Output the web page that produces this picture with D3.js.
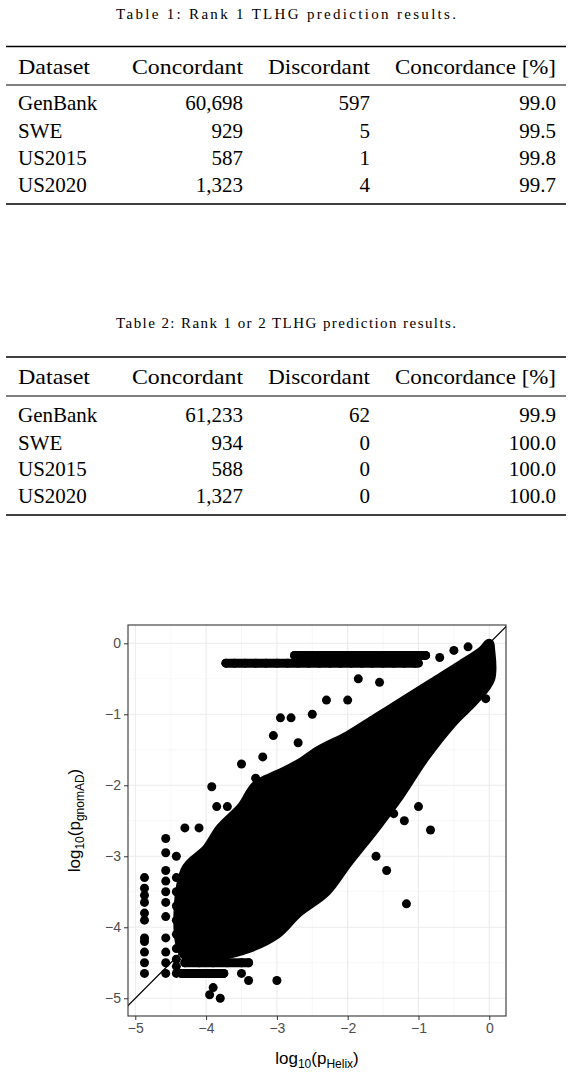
<!DOCTYPE html>
<html><head><meta charset="utf-8">
<script src="https://cdn.jsdelivr.net/npm/d3@7"></script>
<style>body{margin:0;background:#fff}</style></head>
<body><svg id="c" width="572" height="1075"></svg>
<script>
const headers = ["Dataset","Concordant","Discordant","Concordance [%]"];
const datasets = ["GenBank","SWE","US2015","US2020"];
const t1Conc = ["60,698","929","587","1,323"];
const t1Disc = ["597","5","1","4"];
const t1Pct = ["99.0","99.5","99.8","99.7"];
const t2Conc = ["61,233","934","588","1,327"];
const t2Disc = ["62","0","0","0"];
const t2Pct = ["99.9","100.0","100.0","100.0"];
const captions = ["Table 1: Rank 1 TLHG prediction results.","Table 2: Rank 1 or 2 TLHG prediction results."];

const xTicks = [-5,-4,-3,-2,-1,0];
const yTicks = [-5,-4,-3,-2,-1,0];
// dense mass outline (data coords)
const massX = [-4.3,-4.0,-3.8,-3.5,-3.3,-3.0,-2.7,-2.4,-2.0,-1.6,-1.2,-0.8,-0.4,-0.1,0,0.02,0.02,-0.2,-0.5,-0.9,-1.3,-1.6,-2.0,-2.3,-2.7,-3.0,-3.4,-3.8,-4.3];
const massY = [-3.2,-2.9,-2.6,-2.3,-2.0,-1.85,-1.7,-1.5,-1.3,-1.05,-0.8,-0.55,-0.3,-0.1,0,-0.1,-0.5,-0.8,-1.1,-1.6,-2.2,-2.6,-3.1,-3.5,-3.8,-4.1,-4.3,-4.4,-4.4];
// discrete points
const ptX = [-4.87,-4.87,-4.87,-4.87,-4.87,-4.87,-4.87,-4.87,-4.87,-4.87,-4.87,
 -4.57,-4.57,-4.57,-4.57,-4.57,-4.57,-4.57,-4.57,-4.57,-4.57,-4.57,
 -4.42,-4.42,-4.42,-4.42,-4.42,-4.42,-4.42,-4.42,-4.42,-4.42,
 -3.72,-3.6,-3.45,-3.3,-3.15,-3.0,-2.85,-2.7,-2.55,-2.4,-2.25,-2.1,-1.95,-1.8,-1.65,-1.5,-1.35,-1.2,-1.05,
 -2.75,-2.55,-2.4,-2.2,-2.0,-1.8,-1.6,-1.4,-1.2,-1.0,-0.9,
 -4.35,-4.2,-4.05,-3.9,-3.75,-4.3,-4.1,-3.9,-3.7,-3.5,-3.4,
 -1.17,-0.83,-3.8,-3.9,-3.95,-3.0,-3.4,-3.5,-3.92,-3.5,-3.2,-2.8,-2.95,-2.5,-2.3,-2.0,-1.85,-1.55,-3.05,-2.7,-0.05,-3.3,-3.7,-4.1,-4.3,-3.85,-1.45,-1.6,-1.2,-1.35,-1.0,-0.7,-0.5,-0.3];
const ptY = [-3.3,-3.45,-3.55,-3.65,-3.8,-3.9,-4.15,-4.2,-4.35,-4.5,-4.65,
 -2.75,-2.95,-3.2,-3.35,-3.5,-3.65,-3.85,-4.15,-4.35,-4.5,-4.65,
 -3.0,-3.3,-3.5,-3.7,-3.9,-4.1,-4.3,-4.45,-4.55,-4.65,
 -0.28,-0.28,-0.28,-0.28,-0.28,-0.28,-0.28,-0.28,-0.28,-0.28,-0.28,-0.28,-0.28,-0.28,-0.28,-0.28,-0.28,-0.28,-0.28,
 -0.17,-0.17,-0.17,-0.17,-0.17,-0.17,-0.17,-0.17,-0.17,-0.17,-0.17,
 -4.65,-4.65,-4.65,-4.65,-4.65,-4.5,-4.5,-4.5,-4.5,-4.5,-4.5,
 -3.67,-2.63,-5.0,-4.85,-4.95,-4.75,-4.75,-4.65,-2.02,-1.7,-1.6,-1.05,-1.05,-1.0,-0.8,-0.8,-0.5,-0.55,-1.3,-1.4,-0.78,-1.9,-2.3,-2.6,-2.6,-2.3,-3.2,-3.0,-2.5,-2.4,-2.3,-0.2,-0.1,-0.05];

const svg = d3.select("#c");
const serif = "'Liberation Serif', 'DejaVu Serif', serif";
const colRight = [null,243,370,556], colLeft = 18;
const headLeft = [18,132,268,395], headW = [72,111,102,161];
function table(ci, capY, top, head, mid, rows, bot, conc, disc, pct){
  svg.append("text").attr("x",286).attr("y",capY+5).attr("text-anchor","middle")
    .attr("font-family",serif).attr("font-size",15).attr("textLength",340).text(captions[ci]);
  [top,bot].forEach(y=>svg.append("line").attr("x1",6).attr("x2",566).attr("y1",y).attr("y2",y).attr("stroke","#000").attr("stroke-width",1.6));
  svg.append("line").attr("x1",6).attr("x2",566).attr("y1",mid).attr("y2",mid).attr("stroke","#000").attr("stroke-width",1);
  headers.forEach((h,i)=>svg.append("text").attr("x",headLeft[i]).attr("y",head+7).attr("font-family",serif)
    .attr("font-size",21).attr("textLength",headW[i]).attr("lengthAdjust","spacingAndGlyphs").text(h));
  datasets.forEach((d,r)=>{
    const y = rows[r]+7;
    svg.append("text").attr("x",colLeft).attr("y",y).attr("font-family",serif).attr("font-size",21).text(d);
    [conc,disc,pct].forEach((arr,k)=>svg.append("text").attr("x",colRight[k+1]).attr("y",y)
      .attr("text-anchor","end").attr("font-family",serif).attr("font-size",21).text(arr[r]));
  });
}
table(0,14,46.5,67,85,[103,131,158,185],204,t1Conc,t1Disc,t1Pct);
table(1,323,357,377,396,[415,443,469,496],515,t2Conc,t2Disc,t2Pct);

// scatter
const L=128,R=506,T=625,B=1016;
const x = d3.scaleLinear().domain([-5.103,0.236]).range([L,R]);
const y = d3.scaleLinear().domain([-5.25,0.258]).range([B,T]);
const g = svg.append("g");
g.append("rect").attr("x",L).attr("y",T).attr("width",R-L).attr("height",B-T).attr("fill","#fff");
const minor=[-4.5,-3.5,-2.5,-1.5,-0.5];
minor.forEach(v=>{
  g.append("line").attr("x1",x(v)).attr("x2",x(v)).attr("y1",T).attr("y2",B).attr("stroke","#f2f2f2").attr("stroke-width",0.6);
  g.append("line").attr("y1",y(v)).attr("y2",y(v)).attr("x1",L).attr("x2",R).attr("stroke","#f2f2f2").attr("stroke-width",0.6);
});
xTicks.forEach(v=>g.append("line").attr("x1",x(v)).attr("x2",x(v)).attr("y1",T).attr("y2",B).attr("stroke","#ebebeb").attr("stroke-width",1.1));
yTicks.forEach(v=>g.append("line").attr("y1",y(v)).attr("y2",y(v)).attr("x1",L).attr("x2",R).attr("stroke","#ebebeb").attr("stroke-width",1.1));
const clip = svg.append("clipPath").attr("id","pc").append("rect").attr("x",L).attr("y",T).attr("width",R-L).attr("height",B-T);
const pg = g.append("g").attr("clip-path","url(#pc)");
const mass = massX.map((v,i)=>[v,massY[i]]);
pg.append("path").attr("d",d3.line().x(d=>x(d[0])).y(d=>y(d[1])).curve(d3.curveCatmullRomClosed)(mass))
  .attr("fill","#000").attr("stroke","#000").attr("stroke-width",9).attr("stroke-linejoin","round");
pg.selectAll("circle").data(ptX.map((v,i)=>[v,ptY[i]])).join("circle")
  .attr("cx",d=>x(d[0])).attr("cy",d=>y(d[1])).attr("r",4.5).attr("fill","#000");
// band segments
[[-3.72,-1.0,-0.28],[-2.75,-0.9,-0.17],[-4.35,-3.75,-4.65],[-4.3,-3.4,-4.5]].forEach(s=>
  pg.append("line").attr("x1",x(s[0])).attr("x2",x(s[1])).attr("y1",y(s[2])).attr("y2",y(s[2])).attr("stroke","#000").attr("stroke-width",9).attr("stroke-linecap","round"));
pg.append("line").attr("x1",x(-5.3)).attr("y1",y(-5.3)).attr("x2",x(0.5)).attr("y2",y(0.5)).attr("stroke","#000").attr("stroke-width",1.3);
g.append("rect").attr("x",L).attr("y",T).attr("width",R-L).attr("height",B-T).attr("fill","none").attr("stroke","#333").attr("stroke-width",1.1);
const fmt = v => v<0 ? "\u2212"+Math.abs(v) : String(v);
g.append("g").attr("transform",`translate(0,${B})`).call(d3.axisBottom(x).tickValues(xTicks).tickSize(4).tickFormat(fmt))
  .call(a=>{a.select(".domain").remove();a.selectAll("line").attr("stroke","#333");a.selectAll("text").attr("fill","#4d4d4d").attr("font-size",14).attr("font-family","'Liberation Sans',Arial,sans-serif");});
g.append("g").attr("transform",`translate(${L},0)`).call(d3.axisLeft(y).tickValues(yTicks).tickSize(4).tickFormat(fmt))
  .call(a=>{a.select(".domain").remove();a.selectAll("line").attr("stroke","#333");a.selectAll("text").attr("fill","#4d4d4d").attr("font-size",14).attr("font-family","'Liberation Sans',Arial,sans-serif");});
const sans="'Liberation Sans',Arial,sans-serif";
const xt = svg.append("text").attr("x",317).attr("y",1064).attr("text-anchor","middle").attr("font-family",sans).attr("font-size",17);
xt.append("tspan").text("log");
xt.append("tspan").attr("font-size",12).attr("dy",4).text("10");
xt.append("tspan").attr("dy",-4).text("(p");
xt.append("tspan").attr("font-size",12).attr("dy",4).text("Helix");
xt.append("tspan").attr("dy",-4).text(")");
const yt = svg.append("text").attr("transform",`translate(80,${(T+B)/2}) rotate(-90)`).attr("text-anchor","middle").attr("font-family",sans).attr("font-size",17);
yt.append("tspan").text("log");
yt.append("tspan").attr("font-size",12).attr("dy",4).text("10");
yt.append("tspan").attr("dy",-4).text("(p");
yt.append("tspan").attr("font-size",12).attr("dy",4).text("gnomAD");
yt.append("tspan").attr("dy",-4).text(")");
</script></body></html>
